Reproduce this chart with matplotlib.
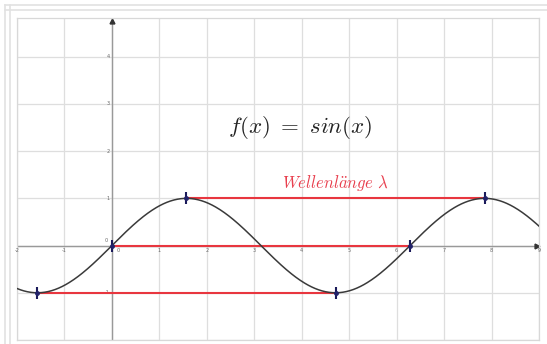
import numpy as np
import matplotlib.pyplot as plt
from matplotlib.lines import Line2D

# data
x_ticks = [-2, -1, 1, 2, 3, 4, 5, 6, 7, 8, 9]
y_ticks = [-1, 1, 2, 3, 4]
wave_x = np.linspace(-2, 9, 600)
wave_y = np.sin(wave_x)

# red "wavelength" segments: (x start, x end, y)
seg_start = [np.pi / 2, 0, -np.pi / 2]
seg_end = [5 * np.pi / 2, 2 * np.pi, 3 * np.pi / 2]
seg_y = [1, 0, -1]

plt.rcParams['mathtext.fontset'] = 'cm'

fig = plt.figure(figsize=(5.47, 3.44), dpi=100)
W, H = 547, 344
ax = fig.add_axes([17 / W, 1 - 340 / H, (539 - 17) / W, (340 - 18) / H])

# outer frame lines (page border)
for yy in [5, 10]:
    fig.add_artist(Line2D([5 / W, 1], [1 - yy / H] * 2, color='#e2e2e2', lw=1.2))
for xx in [5, 10]:
    fig.add_artist(Line2D([xx / W] * 2, [0, 1 - 5 / H], color='#e2e2e2', lw=1.2))

ax.set_xlim(-2, 9)
ax.set_ylim(-2, 4.82)
ax.set_xticks(range(-2, 10))
ax.set_yticks(range(-2, 5))
ax.grid(True, color='#dedede', lw=0.9)
ax.tick_params(length=0, labelbottom=False, labelleft=False)
for s in ax.spines.values():
    s.set_color('#d8d8d8')
    s.set_linewidth(0.9)

# axes with arrows
ax.plot([-2, 8.95], [0, 0], color='#999999', lw=1)
ax.plot([0, 0], [-2, 4.75], color='#999999', lw=1)
ax.plot(8.95, 0, marker='>', color='#333333', ms=3.5, clip_on=False)
ax.plot(0, 4.75, marker='^', color='#333333', ms=3.5, clip_on=False)

# tick labels
for t in x_ticks:
    ax.text(t, -0.06, str(t), fontsize=3.5, color='#666666', ha='center', va='top')
for t in y_ticks:
    ax.text(-0.05, t, str(t), fontsize=3.5, color='#666666', ha='right', va='center')
ax.text(-0.08, 0.06, '0', fontsize=3.5, color='#666666', ha='right', va='bottom')
ax.text(0.1, -0.06, '0', fontsize=3.5, color='#666666', ha='left', va='top')

# red lines
for a, b, yy in zip(seg_start, seg_end, seg_y):
    ax.plot([a, b], [yy, yy], color='#e8363f', lw=1.5, zorder=3)

# sine curve
ax.plot(wave_x, wave_y, color='#3a3a3a', lw=1.1, zorder=4)

# marked points
px = seg_start + seg_end
py = seg_y + seg_y
ax.plot(px, py, linestyle='none', marker='|', color='#1a1a5a', ms=9, mew=1.5, zorder=5)
ax.plot(px, py, linestyle='none', marker='o', color='#22226a', ms=2.5, zorder=5)

ax.text(3.96, 2.5, r'$f(x)\ =\ sin(x)$', fontsize=16.5, color='#222222', ha='center', va='center')
ax.text(4.7, 1.33, r'$Wellenl\ddot{a}nge\ \lambda$', fontsize=12, color='#e8404f', ha='center', va='center')

fig.savefig('out.png', dpi=100)
